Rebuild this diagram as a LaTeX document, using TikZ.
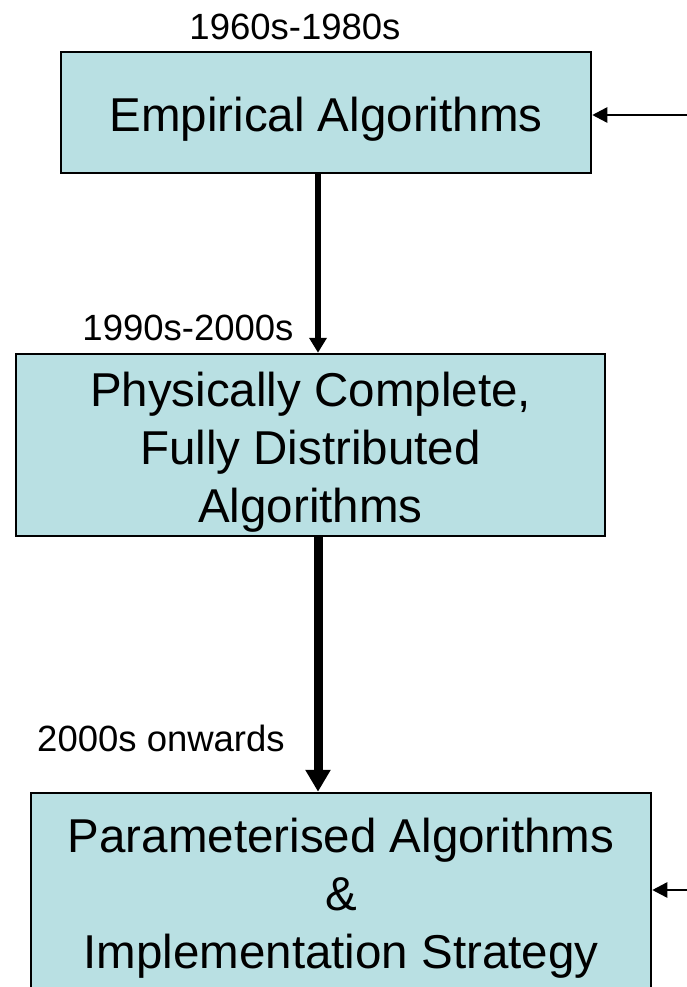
\documentclass[tikz,border=0pt]{standalone}
\usepackage{fontspec}
\setmainfont{Liberation Sans}
\usetikzlibrary{arrows.meta}
\definecolor{boxfill}{RGB}{185,224,227}
\newcommand{\topgap}{\rule{0pt}{48pt}}

\begin{document}
\begin{tikzpicture}[x=1pt,y=-1pt,
  stage/.style={draw=black, line width=2.5pt, fill=boxfill, align=center, inner sep=0pt,
    font=\fontsize{47.5}{58}\selectfont},
  era/.style={font=\fontsize{36.5}{44}\selectfont, inner sep=0pt},
  flow/.style={line width=6pt, -{Triangle[length=15pt,width=17pt]}},
  bigflow/.style={line width=9pt, -{Triangle[length=22pt,width=24pt]}},
  feed/.style={line width=2.5pt, -{Triangle[length=15pt,width=15pt]}}]
\useasboundingbox (0,0) rectangle (687,987);
% stages
\node[stage, minimum width=530pt, minimum height=121pt] (emp) at (326,112.5) {\topgap Empirical Algorithms};
\node[stage, minimum width=589pt, minimum height=182pt] (phys) at (310.5,445) {\topgap Physically Complete,\\Fully Distributed\\Algorithms};
\node[stage, minimum width=620pt, minimum height=197pt] (param) at (341,891.5) {\topgap Parameterised Algorithms\\\&\\Implementation Strategy};
% eras
\node[era] (e1) at (295,27) {1960s-1980s};
\node[era] (e2) at (188,328) {1990s-2000s};
\node[era] (e3) at (161,738) {2000s onwards};
% arrows
\coordinate (spine) at (318,0);
\draw[flow] (spine |- emp.south) -- (spine |- phys.north);
\draw[bigflow] (spine |- phys.south) -- (spine |- param.north);
\coordinate (in1) at (687,115);
\coordinate (in2) at (687,890);
\draw[feed] (in1) -- (in1 -| emp.east);
\draw[feed] (in2) -- (in2 -| param.east);
\end{tikzpicture}
\end{document}
